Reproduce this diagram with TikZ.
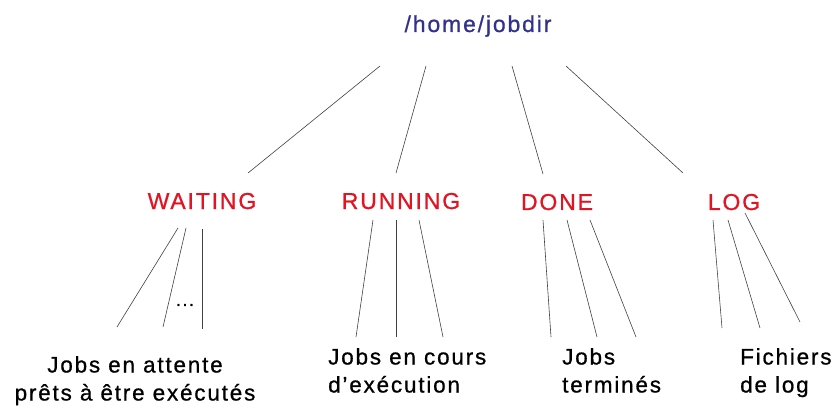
\documentclass[tikz,border=0pt]{standalone}
\usepackage{fontspec}
\setmainfont{Liberation Sans}[LetterSpace=8,FakeBold=0.8]
\definecolor{rootblue}{RGB}{50,50,140}
\definecolor{dirred}{RGB}{225,20,35}
\begin{document}
\begin{tikzpicture}[x=1pt,y=-1pt,
  edge/.style={draw=black!75,line width=0.6pt},
  rootlbl/.style={inner sep=0pt,anchor=base,text=rootblue,font=\fontsize{23}{27}\selectfont},
  dirlbl/.style={inner sep=0pt,anchor=base,text=dirred,font=\fontsize{23}{27}\selectfont},
  leaflbl/.style={inner sep=0pt,anchor=north west,align=left,font=\fontsize{22.5}{28}\selectfont},
]
\useasboundingbox (0,0) rectangle (832,406);
\node[rootlbl] (root) at (478,32) {/home/jobdir};
\node[dirlbl] (waiting) at (202,209) {WAITING};
\node[dirlbl] (running) at (401,209) {RUNNING};
\node[dirlbl] (done) at (557,210) {DONE};
\node[dirlbl] (log) at (734,210) {LOG};
\node[leaflbl,anchor=north,align=center] (lw) at (135,356) {Jobs en attente\\prêts à être exécutés};
\node[leaflbl] (lr) at (328,348) {Jobs en cours\\d’exécution};
\node[leaflbl] (ld) at (562,348) {Jobs\\terminés};
\node[leaflbl] (ll) at (740,348) {Fichiers\\de log};
\node[inner sep=0pt,font=\fontsize{18}{20}\selectfont] (dots) at (185,305) {...};
% root endpoints
\coordinate (r1) at (380,66); \coordinate (w0) at (248,173);
\coordinate (r2) at (426,66); \coordinate (u0) at (396,173);
\coordinate (r3) at (512,66); \coordinate (d0) at (543,174);
\coordinate (r4) at (566,66); \coordinate (g0) at (683,173);
\draw[edge] (r1) -- (w0);
\draw[edge] (r2) -- (u0);
\draw[edge] (r3) -- (d0);
\draw[edge] (r4) -- (g0);
% waiting
\coordinate (wa1) at (178,228); \coordinate (wb1) at (117,327);
\coordinate (wa2) at (186,228); \coordinate (wb2) at (163,327);
\coordinate (wa3) at (202,229); \coordinate (wb3) at (202,329);
\draw[edge] (wa1) -- (wb1);
\draw[edge] (wa2) -- (wb2);
\draw[edge] (wa3) -- (wb3);
% running
\coordinate (ua1) at (373,220); \coordinate (ub1) at (356,337);
\coordinate (ua2) at (396,220); \coordinate (ub2) at (396,337);
\coordinate (ua3) at (419,220); \coordinate (ub3) at (443,337);
\draw[edge] (ua1) -- (ub1);
\draw[edge] (ua2) -- (ub2);
\draw[edge] (ua3) -- (ub3);
% done
\coordinate (da1) at (543,220); \coordinate (db1) at (551,337);
\coordinate (da2) at (567,220); \coordinate (db2) at (597,337);
\coordinate (da3) at (590,220); \coordinate (db3) at (636,337);
\draw[edge] (da1) -- (db1);
\draw[edge] (da2) -- (db2);
\draw[edge] (da3) -- (db3);
% log
\coordinate (ga1) at (713,220); \coordinate (gb1) at (722,328);
\coordinate (ga2) at (728,220); \coordinate (gb2) at (760,328);
\coordinate (ga3) at (745,213); \coordinate (gb3) at (800,322);
\draw[edge] (ga1) -- (gb1);
\draw[edge] (ga2) -- (gb2);
\draw[edge] (ga3) -- (gb3);
\end{tikzpicture}
\end{document}
